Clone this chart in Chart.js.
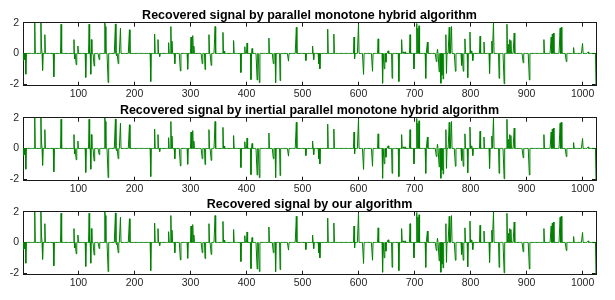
<!DOCTYPE html>
<html>
<head>
<meta charset="utf-8">
<script src="https://cdn.jsdelivr.net/npm/chart.js@4.4.1/dist/chart.umd.min.js"></script>
<style>
  body { margin: 0; background: #fff; }
  #wrap { position: relative; width: 615px; height: 300px; }
  canvas { position: absolute; left: 0; }
</style>
</head>
<body>
<div id="wrap">
  <canvas id="c1" width="615" height="100" style="top:0px"></canvas>
  <canvas id="c2" width="615" height="100" style="top:94.5px"></canvas>
  <canvas id="c3" width="615" height="100" style="top:189px"></canvas>
</div>
<script>
const titles = [
  "Recovered signal by parallel monotone hybrid algorithm",
  "Recovered signal by inertial parallel monotone hybrid algorithm",
  "Recovered signal by our algorithm",
];
const signalLength = 1024;
// nonzero entries of the recovered sparse signal (same in all three panels)
const spikeIdx = [
  2, 4, 6, 22, 33, 34, 36, 40, 56, 69, 92, 93, 96, 99, 113, 119, 122, 123, 128,
  137, 147, 148, 153, 166, 168, 171, 175, 191, 229, 236, 242, 245, 261, 265, 267,
  272, 282, 295, 301, 304, 306, 321, 326, 333, 337, 344, 358, 360, 377, 390, 397,
  401, 408, 410, 419, 423, 440, 448, 452, 460, 475, 489, 506, 518, 520, 529, 531,
  545, 556, 592, 593, 600, 609, 625, 635, 643, 646, 649, 653, 660, 672, 677, 680,
  683, 692, 699, 704, 706, 708, 720, 723, 739, 741, 744, 747, 749, 751, 756, 757,
  762, 766, 773, 784, 787, 790, 795, 799, 802, 804, 817, 824, 834, 838, 841, 851,
  860, 865, 868, 870, 872, 878, 894, 905, 931, 944, 946, 948, 960, 962, 971, 984,
  1000, 1010, 1024,
];
const spikeVal = [
  -0.45, -0.4, -1.35, 2.0, 2.0, 0.48, -1.1, 1.22, -1.52, 1.9, 0.9, -0.36, -0.74, 0.48, -1.56, 1.9, -1.35, 0.9, -0.82,
  -0.4, 2.0, 1.75, -1.9, 1.92, -0.15, -0.67, 1.64, 1.54, -1.83, 1.26, 0.9, -0.2, 0.7, 1.75, 0.8,
  -0.67, -1.14, -1.03, 1.07, 1.16, 0.48, -0.67, -1.05, 1.22, -0.78, 1.75, 1.37, 0.15, 0.84, -1.24, 0.44,
  0.68, -1.7, 0.32, -1.73, -1.9, 1.0, -0.67, -1.9, -1.77, -0.5, 1.7, -0.46, 0.48, -0.4, -0.67, -1.0,
  1.58, 1.26, 1.07, -0.36, 1.9, -1.37, -1.16, 0.95, -1.94, -1.0, -0.57, 0.17, -1.62, -1.83, 0.9, 0.1,
  0.1, 1.22, -1.0, 1.95, 1.64, 1.8, -1.62, 0.74, -0.53, 0.27, -1.2, -1.94, -1.41, -1.66, 1.22, -1.3,
  1.7, 1.75, -1.16, -0.78, -1.16, 0.95, -1.58, 1.39, 0.17, -0.46, 1.12, 0.74, -1.3, 0.8, 2.0, -1.62,
  -1.98, 1.9, 0.59, 0.9, 0.84, 1.33, -0.61, -1.73, 0.9, 1.07, 1.26, 1.33, 1.64, 1.7, -0.53, 0.38,
  0.65, 0.1, -2.1,
];
const xTicks = [100, 200, 300, 400, 500, 600, 700, 800, 900, 1000];
const yTicks = [-2, 0, 2];
const xRange = [1, 1024];
const yRange = [-2.1, 2];

const lineColor = "#008000";
const textColor = "#262626";
const frameColor = "#1a1a1a";
const fontFamily = "'Liberation Sans', Arial, sans-serif";

const signal = [];
for (let n = 1; n <= signalLength; n++) signal.push({ x: n, y: 0 });
spikeIdx.forEach((n, i) => { signal[n - 1].y = spikeVal[i]; });

// box sides: every axis draws its border line and short inward ticks
function boxAxis(position, range, tickValues, showLabels, size) {
  const horizontal = position === "top" || position === "bottom";
  return {
    type: "linear",
    position: position,
    min: range[0],
    max: range[1],
    grid: {
      display: true,
      drawOnChartArea: false,
      drawTicks: true,
      tickLength: -4,
      color: frameColor,
      tickColor: frameColor,
    },
    border: { display: true, color: frameColor, width: 1 },
    afterBuildTicks: (s) => { s.ticks = tickValues.map((v) => ({ value: v })); },
    afterFit: (s) => { if (horizontal) s.height = size; else s.width = size; },
    ticks: {
      display: showLabels,
      autoSkip: false,
      maxRotation: 0,
      padding: horizontal ? 6 : 8,
      color: textColor,
      font: { family: fontFamily, size: 10.5 },
      callback: (v) => String(v),
    },
  };
}

function makeChart(id, title) {
  return new Chart(document.getElementById(id), {
    type: "line",
    data: {
      datasets: [{
        data: signal,
        xAxisID: "x",
        yAxisID: "y",
        borderColor: lineColor,
        borderWidth: 1,
        pointRadius: 0,
        tension: 0,
        fill: false,
      }],
    },
    options: {
      responsive: false,
      animation: false,
      parsing: false,
      layout: { padding: { top: 0, right: 19, bottom: 0, left: 0 } },
      plugins: {
        legend: { display: false },
        tooltip: { enabled: false },
        title: {
          display: true,
          text: title,
          fullSize: false,
          color: "#000",
          font: { family: fontFamily, size: 12.5, weight: "bold", lineHeight: 1.2 },
          padding: { top: 7.7, bottom: 0 },
        },
      },
      scales: {
        x: boxAxis("bottom", xRange, xTicks, true, 12.7),
        x2: boxAxis("top", xRange, xTicks, false, 0),
        y: boxAxis("left", yRange, yTicks, true, 23),
        y2: boxAxis("right", yRange, yTicks, false, 0),
      },
    },
  });
}

titles.forEach((t, i) => makeChart("c" + (i + 1), t));
</script>
</body>
</html>
